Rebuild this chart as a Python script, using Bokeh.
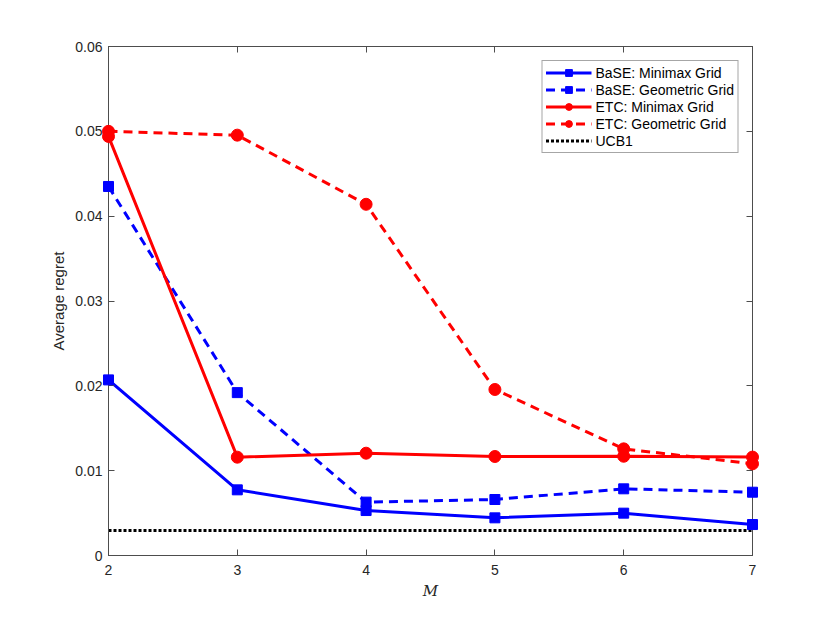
from bokeh.plotting import figure
from bokeh.models import (LinearAxis, FixedTicker, NumeralTickFormatter, Range1d, Legend, LegendItem)
from bokeh.embed import file_html
from bokeh.resources import INLINE

M = [2, 3, 4, 5, 6, 7]
base_minimax = [0.0207, 0.00774, 0.0053, 0.00444, 0.00499, 0.00365]
base_geometric = [0.0435, 0.0192, 0.00629, 0.0066, 0.00786, 0.00746]
etc_minimax = [0.0494, 0.01159, 0.01206, 0.01167, 0.0117, 0.0116]
etc_geometric = [0.0500, 0.04955, 0.0414, 0.01957, 0.01257, 0.01081]
ucb1 = [0.00295] * 6
x_ticks = [2, 3, 4, 5, 6, 7]
y_ticks = [0, 0.01, 0.02, 0.03, 0.04, 0.05, 0.06]

AX = "#4d4d4d"
TXT = "#262626"
FONT = "Liberation Sans"

p = figure(width=822, height=615, output_backend="svg", toolbar_location=None,
           x_range=Range1d(2, 7), y_range=Range1d(0, 0.06),
           min_border_left=108, min_border_right=70, min_border_top=46, min_border_bottom=60)
p.xgrid.visible = False
p.ygrid.visible = False
p.outline_line_color = AX
p.outline_line_width = 1
p.background_fill_color = "white"
p.border_fill_color = "white"

def style_axis(ax, show_labels=True):
    ax.axis_line_color = AX
    ax.major_tick_line_color = AX
    ax.major_tick_in = 6
    ax.major_tick_out = 0
    ax.minor_tick_line_color = None
    ax.major_label_text_color = TXT
    ax.major_label_text_font = FONT
    ax.major_label_text_font_size = "14px"
    if not show_labels:
        ax.major_label_text_font_size = "0px"
        ax.major_label_standoff = 0

xa = p.xaxis[0]
xa.ticker = FixedTicker(ticks=x_ticks)
style_axis(xa)
xa.major_label_standoff = 9
xa.axis_label = "M"
xa.axis_label_text_font = "DejaVu Serif"
xa.axis_label_text_font_style = "italic"
xa.axis_label_text_font_size = "15px"
xa.axis_label_text_color = TXT
xa.axis_label_standoff = 4

ya = p.yaxis[0]
ya.ticker = FixedTicker(ticks=y_ticks)
ya.formatter = NumeralTickFormatter(format="0.[00]")
style_axis(ya)
ya.major_label_standoff = 6
ya.axis_label = "Average regret"
ya.axis_label_text_font = FONT
ya.axis_label_text_font_style = "normal"
ya.axis_label_text_font_size = "15px"
ya.axis_label_text_color = TXT
ya.axis_label_standoff = 5

top = LinearAxis(ticker=FixedTicker(ticks=x_ticks))
style_axis(top, False)
top.major_label_text_alpha = 0
p.add_layout(top, "above")
right = LinearAxis(ticker=FixedTicker(ticks=y_ticks))
style_axis(right, False)
right.major_label_text_alpha = 0
p.add_layout(right, "right")

LW = 3
r1 = p.line(M, base_minimax, color="blue", line_width=LW)
s1 = p.scatter(M, base_minimax, marker="square", size=10, color="blue")
r2 = p.line(M, base_geometric, color="blue", line_width=LW, line_dash="9 6")
s2 = p.scatter(M, base_geometric, marker="square", size=10, color="blue")
r3 = p.line(M, etc_minimax, color="red", line_width=LW)
s3 = p.scatter(M, etc_minimax, marker="circle", size=12, color="red")
r4 = p.line(M, etc_geometric, color="red", line_width=LW, line_dash="9 6")
s4 = p.scatter(M, etc_geometric, marker="circle", size=12, color="red")
r5 = p.line(M, ucb1, color="black", line_width=LW, line_dash="3 2")
for r in [s1, s2, s3, s4]:
    r.level = "overlay"

legend = Legend(items=[
    LegendItem(label="BaSE: Minimax Grid", renderers=[r1, s1]),
    LegendItem(label="BaSE: Geometric Grid", renderers=[r2, s2]),
    LegendItem(label="ETC: Minimax Grid", renderers=[r3, s3]),
    LegendItem(label="ETC: Geometric Grid", renderers=[r4, s4]),
    LegendItem(label="UCB1", renderers=[r5]),
], location="top_right")
legend.margin = 14
legend.padding = 3
legend.spacing = 0
legend.glyph_width = 46
legend.glyph_height = 17
legend.label_height = 17
legend.label_standoff = 4
legend.label_text_font = FONT
legend.label_text_font_size = "14px"
legend.label_text_color = "black"
legend.border_line_color = AX
legend.border_line_width = 1
legend.background_fill_alpha = 1
p.add_layout(legend, "center")

open("out.html", "w").write(file_html(p, INLINE))
